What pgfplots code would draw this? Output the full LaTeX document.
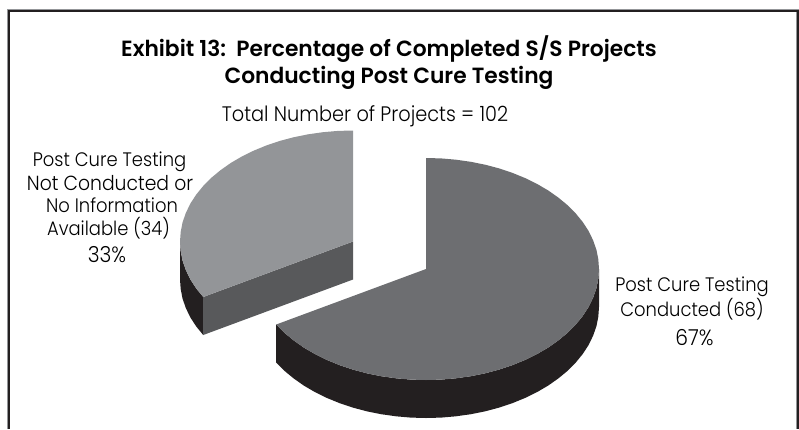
\documentclass[border=0pt]{standalone}
\usepackage{pgfplots}
\pgfplotsset{compat=1.18}
\usepackage{fontspec}
\setmainfont[FakeStretch=0.92]{Poppins Light}
\newfontfamily\titlefont[FakeStretch=0.99]{Poppins SemiBold}
\definecolor{topmain}{HTML}{6D6E71}
\definecolor{toplight}{HTML}{939598}
\definecolor{sidedark}{HTML}{231F20}
\definecolor{cutface}{HTML}{58595B}

% outlines in picture pixels, y downwards
\pgfplotstableread{
x y
599 269
598.3 278.7
596.4 288.3
593.1 297.7
588.6 307
582.8 315.9
575.8 324.5
567.7 332.7
558.5 340.3
548.3 347.5
537.2 354
525.2 359.9
512.5 365.1
499.1 369.6
485.2 373.3
470.8 376.2
456 378.3
441.1 379.6
426 380
410.9 379.6
396 378.3
381.2 376.2
366.8 373.3
352.9 369.6
339.5 365.1
326.8 359.9
314.8 354
303.7 347.5
293.5 340.3
284.3 332.7
276.2 324.5
276.2 362.5
284.3 370.7
293.5 378.3
303.7 385.5
314.8 392
326.8 397.9
339.5 403.1
352.9 407.6
366.8 411.3
381.2 414.2
396 416.3
410.9 417.6
426 418
441.1 417.6
456 416.3
470.8 414.2
485.2 411.3
499.1 407.6
512.5 403.1
525.2 397.9
537.2 392
548.3 385.5
558.5 378.3
567.7 370.7
575.8 362.5
582.8 353.9
588.6 345
593.1 335.7
596.4 326.3
598.3 316.7
599 307
}\mainside

\pgfplotstableread{
x y
426 269
426 158
441.1 158.4
456 159.7
470.8 161.8
485.2 164.7
499.1 168.4
512.5 172.9
525.2 178.1
537.2 184
548.3 190.5
558.5 197.7
567.7 205.3
575.8 213.5
582.8 222.1
588.6 231
593.1 240.3
596.4 249.7
598.3 259.3
599 269
598.3 278.7
596.4 288.3
593.1 297.7
588.6 307
582.8 315.9
575.8 324.5
567.7 332.7
558.5 340.3
548.3 347.5
537.2 354
525.2 359.9
512.5 365.1
499.1 369.6
485.2 373.3
470.8 376.2
456 378.3
441.1 379.6
426 380
410.9 379.6
396 378.3
381.2 376.2
366.8 373.3
352.9 369.6
339.5 365.1
326.8 359.9
314.8 354
303.7 347.5
293.5 340.3
284.3 332.7
276.2 324.5
}\maintop

\pgfplotstableread{
x y
180 241.5
180.7 251.2
182.6 260.8
185.9 270.2
190.4 279.5
196.2 288.4
203.2 297
203.2 335
196.2 326.4
190.4 317.5
185.9 308.2
182.6 298.8
180.7 289.2
180 279.5
}\wedgeside

\pgfplotstableread{
x y
353 241.5
203.2 297
203.2 335
353 279.5
}\wedgecut

\pgfplotstableread{
x y
353 241.5
353 130.5
337.9 130.9
323 132.2
308.2 134.3
293.8 137.2
279.9 140.9
266.5 145.4
253.8 150.6
241.8 156.5
230.7 163
220.5 170.2
211.3 177.8
203.2 186
196.2 194.6
190.4 203.5
185.9 212.8
182.6 222.2
180.7 231.8
180 241.5
180.7 251.2
182.6 260.8
185.9 270.2
190.4 279.5
196.2 288.4
203.2 297
}\wedgetop

\begin{document}
\begin{tikzpicture}
\begin{axis}[
    scale only axis,
    width=799pt, height=429pt,
    xmin=0, xmax=799, ymin=0, ymax=429,
    y dir=reverse,
    axis lines=none,
    clip=true,
    every node/.append style={text=sidedark, anchor=base, inner sep=0pt},
]
% keeps the page at the full picture size
\addplot[draw=none, forget plot] coordinates {(0,0) (799,429)};
% frame, open at the bottom
\addplot[line width=1pt, color=toplight] coordinates {(7.5,429) (7.5,9.5) (799,9.5)};
\addplot[line width=1pt, color=toplight] coordinates {(796.5,12) (796.5,429)};
\addplot[line width=2.5pt, color=sidedark] coordinates {(9,429) (9,11) (798,11) (798,429)};

\addplot[fill=sidedark, draw=none] table {\wedgeside} -- cycle;
\addplot[fill=cutface, draw=none] table {\wedgecut} -- cycle;
\addplot[fill=toplight, draw=none] table {\wedgetop} -- cycle;
\addplot[fill=sidedark, draw=none] table {\mainside} -- cycle;
\addplot[fill=topmain, draw=none] table {\maintop} -- cycle;

\node[font=\titlefont\fontsize{22}{29}\selectfont] at (axis cs:389,49.5)
    {Exhibit 13:\ \ Percentage of Completed S/S Projects};
\node[font=\titlefont\fontsize{22}{29}\selectfont] at (axis cs:389,78)
    {Conducting Post Cure Testing};
\node[font=\fontsize{21}{22}\selectfont] at (axis cs:365,116) {Total Number of Projects = 102};

\node[font=\fontsize{19.5}{22}\selectfont] at (axis cs:109.5,161.7) {Post Cure Testing};
\node[font=\fontsize{20.4}{22}\selectfont] at (axis cs:110,183.5) {Not Conducted or};
\node[font=\fontsize{19.5}{22}\selectfont] at (axis cs:112,205.5) {No Information};
\node[font=\fontsize{19.5}{22}\selectfont] at (axis cs:108.5,228) {Available (34)};
\node[font=\fontsize{22}{22}\selectfont] at (axis cs:107,255) {33\%};

\node[font=\fontsize{19.5}{22}\selectfont] at (axis cs:692,286.7) {Post Cure Testing};
\node[font=\fontsize{19.5}{22}\selectfont] at (axis cs:692,309) {Conducted (68)};
\node[font=\fontsize{22}{22}\selectfont] at (axis cs:694.5,338) {67\%};
\end{axis}
\end{tikzpicture}
\end{document}
